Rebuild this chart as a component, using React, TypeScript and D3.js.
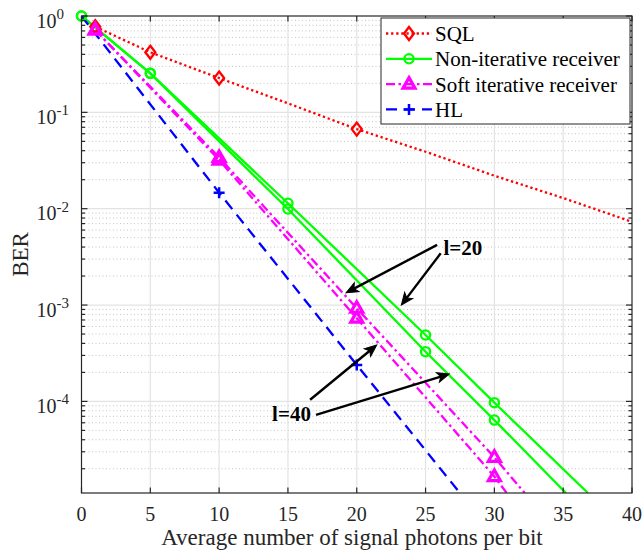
import React from "react";
import * as d3 from "d3";

const W = 643;
const H = 552;

// ---------- data ----------
const xTicks = [0, 5, 10, 15, 20, 25, 30, 35, 40];
const yDecades = [0, -1, -2, -3, -4];
const yMin = 1.12e-5;

const sqlX = [1, 5, 10, 15, 20, 25, 30, 35, 40];
const sqlY = [0.774, 0.42, 0.227, 0.124, 0.067, 0.039, 0.022, 0.0129, 0.0073];
const sqlMarkX = [1, 5, 10, 20];

const nonIter20X = [0, 5, 15, 25, 30, 36.8];
const nonIter20Y = [1, 0.254, 0.01138, 4.89e-4, 9.7e-5, 1.12e-5];
const nonIter40X = [0, 5, 15, 25, 30, 35.2];
const nonIter40Y = [1, 0.254, 0.00993, 3.28e-4, 6.4e-5, 1.12e-5];
const nonIterMarkX = [0, 5, 15, 25, 30];

const soft20X = [1, 10, 20, 30, 32.2];
const soft20Y = [0.716, 0.034, 9.26e-4, 2.63e-5, 1.12e-5];
const soft40X = [1, 10, 20, 30, 30.9];
const soft40Y = [0.716, 0.032, 7.3e-4, 1.66e-5, 1.12e-5];
const softMarkX = [1, 10, 20, 30];

const hlX = [0, 10, 20, 27.5];
const hlY = [1, 0.01466, 2.39e-4, 1.12e-5];
const hlMarkX = [10, 20];

const legendLabels = ["SQL", "Non-iterative receiver", "Soft iterative receiver", "HL"];

// annotations (data coordinates)
const annoLabels = ["l=20", "l=40"];
const annoTextX = [26.3, 13.85];
const annoTextY = [3.3e-3, 6.2e-5];
const arrowTailX = [25.84, 26.1, 16.61, 17.04];
const arrowTailY = [4.21e-3, 3.44e-3, 1.04e-4, 7.23e-5];
const arrowTipX = [19.22, 23.24, 21.45, 26.73];
const arrowTipY = [1.34e-3, 1.0e-3, 3.85e-4, 1.93e-4];

// ---------- layout ----------
const L = 81.5, R = 632, T = 16, B = 493;
const FONT = "'Liberation Serif', 'Times New Roman', Times, serif";
const AX = "#262626";
const LW = 2.3;

const x = d3.scaleLinear().domain([0, 40]).range([L, R]);
const y = d3.scaleLog().domain([yMin, 1]).range([B, T]);

type Series = {
  xs: number[];
  ys: number[];
  marks: number[];
  color: string;
  dash: string;
  marker: string;
};

const series: Series[] = [
  { xs: sqlX, ys: sqlY, marks: sqlMarkX, color: "#ff0000", dash: "2.3,2.8", marker: "diamond" },
  { xs: nonIter20X, ys: nonIter20Y, marks: nonIterMarkX, color: "#00ff00", dash: "", marker: "circle" },
  { xs: nonIter40X, ys: nonIter40Y, marks: nonIterMarkX, color: "#00ff00", dash: "", marker: "circle" },
  { xs: soft20X, ys: soft20Y, marks: softMarkX, color: "#ff00ff", dash: "9,3.5,2.5,3.5", marker: "triangle" },
  { xs: soft40X, ys: soft40Y, marks: softMarkX, color: "#ff00ff", dash: "9,3.5,2.5,3.5", marker: "triangle" },
  { xs: hlX, ys: hlY, marks: hlMarkX, color: "#0000ff", dash: "11,7", marker: "plus" },
];

const legendStyles = [series[0], series[1], series[3], series[5]];

function Marker({ kind, cx, cy, color }: { kind: string; cx: number; cy: number; color: string }) {
  const t = `translate(${cx},${cy})`;
  if (kind === "circle")
    return <circle cx={cx} cy={cy} r={4.6} fill="none" stroke={color} strokeWidth={2.3} />;
  if (kind === "diamond")
    return <path transform={t} d="M0,-6.5L5,0L0,6.5L-5,0Z" fill="none" stroke={color} strokeWidth={2.3} />;
  if (kind === "triangle")
    return <path transform={t} d="M0,-6.5L6,4L-6,4Z" fill="none" stroke={color} strokeWidth={3.2} strokeLinejoin="miter" />;
  return <path transform={t} d="M-5.5,0H5.5M0,-5.5V5.5" fill="none" stroke={color} strokeWidth={2.5} />;
}

function Arrow({ x1, y1, x2, y2 }: { x1: number; y1: number; x2: number; y2: number }) {
  const ang = Math.atan2(y2 - y1, x2 - x1);
  const len = 12, half = 5, back = 9;
  const deg = (ang * 180) / Math.PI;
  const total = Math.hypot(x2 - x1, y2 - y1);
  return (
    <g transform={`translate(${x1},${y1}) rotate(${deg})`}>
      <line x1={0} y1={0} x2={total - back} y2={0} stroke="#000" strokeWidth={2.4} />
      <path d={`M${total},0L${total - len},${-half}L${total - back},0L${total - len},${half}Z`} fill="#000" stroke="#000" strokeWidth={1} />
    </g>
  );
}

export default function App() {
  const line = d3
    .line<[number, number]>()
    .x((d) => x(d[0]))
    .y((d) => y(d[1]));

  const minorVals: number[] = [];
  for (let e = -5; e < 0; e++) {
    for (let k = 2; k <= 9; k++) {
      const v = k * Math.pow(10, e);
      if (v > yMin && v < 1) minorVals.push(v);
    }
  }
  const majorVals = yDecades.map((e) => Math.pow(10, e));

  const legRowY = [33.5, 58.8, 84.1, 109.4];

  return (
    <svg
      width={W}
      height={H}
      style={{ position: "absolute", left: 0, top: 0, background: "#fff" }}
      fontFamily={FONT}
    >
      <defs>
        <clipPath id="plotclip">
          <rect x={L} y={T} width={R - L} height={B - T} />
        </clipPath>
      </defs>
      <rect x={0} y={0} width={W} height={H} fill="#fff" />

      {/* minor grid */}
      {minorVals.map((v, i) => (
        <line key={"mg" + i} x1={L} x2={R} y1={y(v)} y2={y(v)} stroke="#c4c4c4" strokeWidth={1} strokeDasharray="1,2.5" />
      ))}
      {/* major grid */}
      {majorVals.slice(1).map((v, i) => (
        <line key={"Mg" + i} x1={L} x2={R} y1={y(v)} y2={y(v)} stroke="#e3e3e3" strokeWidth={1.2} />
      ))}
      {xTicks.slice(1, -1).map((t) => (
        <line key={"vg" + t} x1={x(t)} x2={x(t)} y1={T} y2={B} stroke="#e3e3e3" strokeWidth={1.2} />
      ))}

      {/* series */}
      <g clipPath="url(#plotclip)">
        {series.map((s, i) => (
          <path
            key={"s" + i}
            d={line(s.xs.map((xv, j) => [xv, s.ys[j]] as [number, number])) || ""}
            fill="none"
            stroke={s.color}
            strokeWidth={LW}
            strokeDasharray={s.dash || undefined}
          />
        ))}
      </g>
      {series.map((s, i) =>
        s.marks.map((mx) => {
          const j = s.xs.indexOf(mx);
          return <Marker key={"m" + i + "_" + mx} kind={s.marker} cx={x(mx)} cy={y(s.ys[j])} color={s.color} />;
        })
      )}

      {/* axes box */}
      <rect x={L} y={T} width={R - L} height={B - T} fill="none" stroke={AX} strokeWidth={1.2} />
      {/* x ticks */}
      {xTicks.map((t) => (
        <g key={"xt" + t}>
          <line x1={x(t)} x2={x(t)} y1={B} y2={B - 5.5} stroke={AX} strokeWidth={1.2} />
          <line x1={x(t)} x2={x(t)} y1={T} y2={T + 5.5} stroke={AX} strokeWidth={1.2} />
          <text x={x(t)} y={521} textAnchor="middle" fontSize={20} fill={AX}>
            {t}
          </text>
        </g>
      ))}
      {/* y ticks */}
      {majorVals.map((v, i) => (
        <g key={"yt" + i}>
          <line x1={L} x2={L + 6} y1={y(v)} y2={y(v)} stroke={AX} strokeWidth={1.2} />
          <line x1={R} x2={R - 6} y1={y(v)} y2={y(v)} stroke={AX} strokeWidth={1.2} />
          <text x={36.5} y={y(v) + 11.5} fontSize={20} fill={AX}>
            10
            <tspan dy={-8.5} fontSize={15}>
              {String(yDecades[i])}
            </tspan>
          </text>
        </g>
      ))}
      {minorVals.map((v, i) => (
        <g key={"ym" + i}>
          <line x1={L} x2={L + 3.5} y1={y(v)} y2={y(v)} stroke={AX} strokeWidth={1.2} />
          <line x1={R} x2={R - 3.5} y1={y(v)} y2={y(v)} stroke={AX} strokeWidth={1.2} />
        </g>
      ))}

      {/* axis labels */}
      <text x={352} y={545} textAnchor="middle" fontSize={23} fill={AX}>
        Average number of signal photons per bit
      </text>
      <text transform={`translate(28,${(T + B) / 2}) rotate(-90)`} textAnchor="middle" fontSize={23} fill={AX}>
        BER
      </text>

      {/* annotations */}
      {arrowTailX.map((tx, i) => (
        <Arrow key={"ar" + i} x1={x(tx)} y1={y(arrowTailY[i])} x2={x(arrowTipX[i])} y2={y(arrowTipY[i])} />
      ))}
      {annoLabels.map((lab, i) => (
        <text key={"an" + i} x={x(annoTextX[i])} y={y(annoTextY[i])} fontSize={21} fontWeight="bold" fill="#000">
          {lab}
        </text>
      ))}

      {/* legend */}
      <rect x={381} y={18} width={249} height={106} fill="#fff" stroke={AX} strokeWidth={1} />
      {legendLabels.map((lab, i) => {
        const s = legendStyles[i];
        const ly = legRowY[i];
        return (
          <g key={"lg" + i}>
            <line x1={386} x2={432} y1={ly} y2={ly} stroke={s.color} strokeWidth={LW} strokeDasharray={s.dash || undefined} />
            <Marker kind={s.marker} cx={409} cy={ly} color={s.color} />
            <text x={435} y={ly + 7.5} fontSize={21} fill="#000">
              {lab}
            </text>
          </g>
        );
      })}
    </svg>
  );
}
